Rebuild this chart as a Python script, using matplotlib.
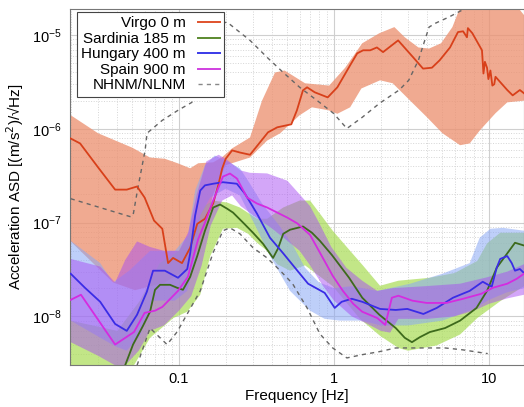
import numpy as np
import matplotlib
matplotlib.use("Agg")
import matplotlib.pyplot as plt
from matplotlib.lines import Line2D

plt.rcParams['font.family'] = ['Liberation Sans', 'DejaVu Sans']

# --- Virgo 0 m ---
virgo_f = [0.02, 0.023, 0.030, 0.0387, 0.046, 0.0536, 0.060, 0.069, 0.078, 0.085, 0.0915, 0.1045,
           0.118, 0.131, 0.147, 0.166, 0.18, 0.19, 0.2, 0.22, 0.247, 0.287, 0.375, 0.43, 0.53, 0.576,
           0.63, 0.67, 0.75, 0.91, 1.05, 1.27, 1.41, 1.54, 1.71, 1.89, 2.07, 2.59, 3.24, 3.75, 4.28,
           4.8, 5.6, 6.3, 6.8, 7.2, 7.3, 7.8, 9.0, 9.2, 9.4, 9.7, 9.9, 10.2, 10.5, 10.8, 11.0, 13.1,
           14.2, 15.8, 16.8]
virgo_a = [7.9e-7, 7.0e-7, 3.9e-7, 2.25e-7, 2.25e-7, 2.43e-7, 1.85e-7, 1.05e-7, 8.6e-8, 3.7e-8, 4.2e-8, 3.7e-8,
           5.4e-8, 9.7e-8, 1.1e-7, 1.6e-7, 2.6e-7, 3.8e-7, 4.8e-7, 5.9e-7, 5.6e-7, 5.3e-7, 9.2e-7, 1.04e-6, 1.12e-6, 1.58e-6,
           2.58e-6, 2.78e-6, 2.46e-6, 2.17e-6, 2.78e-6, 4.78e-6, 6.4e-6, 6.9e-6, 6.9e-6, 7.4e-6, 6.6e-6, 8.8e-6, 5.8e-6, 4.4e-6, 4.5e-6,
           5.4e-6, 7.4e-6, 1.08e-5, 1.1e-5, 9.5e-6, 1.19e-5, 1.05e-5, 6.9e-6, 3.9e-6, 5.2e-6, 4.5e-6, 3.4e-6, 4.2e-6, 2.9e-6, 3.0e-6, 3.6e-6, 2.6e-6,
           2.28e-6, 2.6e-6, 2.4e-6]
virgo_up_f = [0.02, 0.03, 0.05, 0.065, 0.081, 0.098, 0.118, 0.133, 0.166, 0.19, 0.22, 0.287, 0.343, 0.416,
              0.48, 0.65, 0.93, 1.18, 1.52, 1.96, 2.45, 2.86, 3.5, 4.1, 4.9, 5.8, 6.4, 7.5, 13.7, 16.8]
virgo_up_a = [1.4e-6, 9e-7, 6.3e-7, 4.95e-7, 4.8e-7, 4.3e-7, 3.8e-7, 4.3e-7, 4.4e-7, 5.0e-7, 6.2e-7, 8.1e-7, 2.0e-6, 4.0e-6,
              4.2e-6, 3.07e-6, 2.9e-6, 4.5e-6, 8.2e-6, 1.05e-5, 1.22e-5, 9.5e-6, 7.4e-6, 7.2e-6, 8.2e-6, 1.22e-5, 1.85e-5, 2.5e-5, 2.5e-5, 1.64e-5]
virgo_lo_f = [0.02, 0.0375, 0.052, 0.081, 0.109, 0.14, 0.166, 0.2, 0.287, 0.37, 0.45, 0.6, 0.72, 0.92,
              1.05, 1.27, 1.5, 1.98, 2.39, 3.1, 3.98, 5.0, 6.5, 7.5, 8.7, 11.0, 13.1, 16.8]
virgo_lo_a = [6.3e-8, 2.3e-8, 1.9e-8, 2.3e-8, 3.1e-8, 6e-8, 2e-7, 4.1e-7, 4.95e-7, 7.5e-7, 9e-7, 1.4e-6, 1.7e-6, 1.58e-6,
              1.45e-6, 1.7e-6, 2.7e-6, 3.3e-6, 3.07e-6, 2.0e-6, 1.33e-6, 9.0e-7, 6.7e-7, 7.0e-7, 9.6e-7, 1.47e-6, 1.92e-6, 2.0e-6]

# --- Sardinia 185 m ---
sard_f = [0.0417, 0.0449, 0.0505, 0.0585, 0.065, 0.07, 0.0754, 0.0875, 0.097, 0.106, 0.118, 0.131, 0.147,
          0.166, 0.184, 0.204, 0.223, 0.259, 0.3, 0.348, 0.404, 0.435, 0.47, 0.52, 0.63, 0.72, 0.81, 0.97,
          1.25, 1.52, 1.96, 2.5, 2.86, 3.18, 3.58, 4.15, 5.2, 6.5, 8.3, 9.7, 11.2, 13.1, 14.7, 16.8]
sard_a = [2.3e-9, 3.0e-9, 5.0e-9, 7.9e-9, 1.12e-8, 1.92e-8, 2.17e-8, 2.17e-8, 2.02e-8, 1.92e-8, 2.64e-8, 4.4e-8, 8.2e-8,
          1.45e-7, 1.56e-7, 1.41e-7, 1.28e-7, 1.0e-7, 7.8e-8, 5.96e-8, 4.2e-8, 5.3e-8, 7.6e-8, 8.4e-8, 9.1e-8, 7.8e-8, 6.4e-8, 4.5e-8,
          2.58e-8, 1.58e-8, 1.04e-8, 7.5e-9, 5.9e-9, 5.3e-9, 6.0e-9, 6.8e-9, 7.5e-9, 9.0e-9, 1.23e-8, 1.87e-8, 3.3e-8, 4.7e-8, 6.1e-8, 5.7e-8]
sard_up_f = [0.02, 0.04, 0.056, 0.075, 0.1, 0.127, 0.147, 0.166, 0.204, 0.247, 0.318, 0.37, 0.47, 0.6, 0.7,
             0.81, 0.98, 1.27, 1.54, 1.98, 2.6, 4.15, 6.0, 8.4, 9.7, 11.8, 16.8]
sard_up_a = [9e-9, 7e-9, 1.47e-8, 3.7e-8, 5e-8, 9.3e-8, 1.52e-7, 1.72e-7, 1.64e-7, 1.45e-7, 1.1e-7, 1.1e-7, 1.45e-7, 1.72e-7, 1.72e-7,
             1.25e-7, 8.2e-8, 5e-8, 3.47e-8, 2.12e-8, 2.4e-8, 2.58e-8, 2.9e-8, 3.9e-8, 6e-8, 7.8e-8, 7.8e-8]
sard_lo_f = [0.02, 0.048, 0.065, 0.092, 0.113, 0.137, 0.159, 0.192, 0.236, 0.279, 0.318, 0.37, 0.43, 0.52,
             0.65, 0.98, 1.47, 1.98, 2.6, 3.0, 4.6, 6.5, 8.4, 11.8, 16.8]
sard_lo_a = [2.5e-9, 2.5e-9, 5.9e-9, 9.6e-9, 1.12e-8, 1.7e-8, 4.4e-8, 8.6e-8, 8.8e-8, 7.6e-8, 6.1e-8, 5e-8, 3.6e-8, 3.07e-8,
             3.5e-8, 2.1e-8, 9.4e-9, 6.2e-9, 4.6e-9, 4.3e-9, 4.9e-9, 6.4e-9, 9.6e-9, 1.45e-8, 2.1e-8]

# --- Hungary 400 m ---
hung_f = [0.02, 0.0247, 0.031, 0.0387, 0.046, 0.0536, 0.062, 0.068, 0.081, 0.0985, 0.113, 0.118, 0.127, 0.137,
          0.147, 0.166, 0.192, 0.236, 0.266, 0.318, 0.386, 0.47, 0.58, 0.68, 0.87, 1.01, 1.12, 1.3, 1.52, 1.98,
          2.5, 2.97, 3.77, 4.6, 5.85, 7.5, 9.1, 10.4, 11.2, 11.8, 13.1, 14.0, 14.7, 15.8, 16.8]
hung_a = [2.85e-8, 2.02e-8, 1.43e-8, 8.3e-9, 7.0e-9, 1.04e-8, 1.83e-8, 3.07e-8, 3.07e-8, 2.58e-8, 3.2e-8, 4.7e-8, 1.19e-7, 2.2e-7,
          2.5e-7, 2.6e-7, 2.7e-7, 2.6e-7, 2.04e-7, 1.25e-7, 6.9e-8, 4.7e-8, 3.07e-8, 2.23e-8, 1.78e-8, 1.23e-8, 1.43e-8, 1.54e-8, 1.43e-8, 1.2e-8,
          1.17e-8, 1.2e-8, 1.06e-8, 1.23e-8, 1.58e-8, 1.87e-8, 2.34e-8, 2.07e-8, 3.3e-8, 4.1e-8, 4.4e-8, 3.7e-8, 3.07e-8, 3.2e-8, 2.9e-8]
hung_up_f = [0.02, 0.031, 0.0375, 0.048, 0.065, 0.094, 0.114, 0.127, 0.147, 0.17, 0.2, 0.247, 0.287, 0.343,
             0.45, 0.55, 0.65, 0.8, 1.0, 1.3, 1.9, 3.1, 5.0, 7.5, 8.7, 10.2, 12.3, 16.8]
hung_up_a = [6.4e-8, 3.7e-8, 2.3e-8, 3.1e-8, 5e-8, 5e-8, 7.3e-8, 2.2e-7, 4.1e-7, 5.2e-7, 4.6e-7, 3.8e-7, 2.6e-7, 1.6e-7,
             9e-8, 5.5e-8, 3.3e-8, 2.3e-8, 2.0e-8, 2.1e-8, 1.87e-8, 2.23e-8, 2.85e-8, 3.7e-8, 6.9e-8, 8.6e-8, 8.8e-8, 8.2e-8]
hung_lo_f = [0.02, 0.0387, 0.046, 0.056, 0.068, 0.094, 0.113, 0.127, 0.137, 0.159, 0.2, 0.247, 0.31, 0.386,
             0.52, 0.7, 0.87, 1.09, 1.5, 2.0, 3.0, 5.0, 8.0, 10.0, 13.0, 16.8]
hung_lo_a = [9e-9, 4.8e-9, 4.3e-9, 6.2e-9, 1.47e-8, 1.47e-8, 1.87e-8, 3.9e-8, 1.19e-7, 1.85e-7, 2.3e-7, 1.95e-7, 9.3e-8, 4.4e-8,
             1.87e-8, 1.15e-8, 9.4e-9, 9e-9, 9e-9, 8e-9, 8e-9, 9e-9, 1.2e-8, 1.5e-8, 1.8e-8, 2e-8]

# --- Spain 900 m ---
spain_f = [0.02, 0.0233, 0.0387, 0.0512, 0.06, 0.07, 0.078, 0.0985, 0.114, 0.133, 0.147, 0.166, 0.192, 0.213,
           0.236, 0.275, 0.318, 0.37, 0.43, 0.5, 0.58, 0.7, 0.84, 0.98, 1.14, 1.33, 1.52, 1.9, 2.14, 2.36,
           2.6, 3.2, 3.96, 5.3, 6.8, 8.9, 10.6, 13.1, 15.1, 16.8]
spain_a = [1.5e-8, 1.7e-8, 5.0e-9, 6.8e-9, 1.09e-8, 1.15e-8, 1.26e-8, 1.87e-8, 2.64e-8, 6.7e-8, 1.0e-7, 1.72e-7, 3.1e-7, 3.34e-7,
           2.96e-7, 1.85e-7, 1.6e-7, 1.45e-7, 1.28e-7, 1.13e-7, 9.8e-8, 7.4e-8, 4.3e-8, 2.71e-8, 1.87e-8, 1.36e-8, 1.12e-8, 9.6e-9, 8.1e-9, 1.58e-8,
           1.66e-8, 1.47e-8, 1.39e-8, 1.39e-8, 1.54e-8, 1.74e-8, 2.02e-8, 2.23e-8, 2.52e-8, 2.85e-8]
spain_up_f = [0.02, 0.031, 0.0387, 0.045, 0.0536, 0.065, 0.08, 0.1, 0.115, 0.13, 0.15, 0.18, 0.2, 0.25, 0.287,
              0.37, 0.5, 0.6, 0.7, 0.8, 0.96, 1.2, 1.52, 1.9, 2.4, 3.9, 6.5, 9.6, 13.1, 16.8]
spain_up_a = [4.1e-8, 3.4e-8, 2.3e-8, 4e-8, 6.3e-8, 5.5e-8, 5e-8, 5e-8, 8e-8, 2e-7, 4.5e-7, 5.3e-7, 4.8e-7, 3.6e-7, 3.4e-7,
              3.35e-7, 2.8e-7, 2.0e-7, 1.5e-7, 1.0e-7, 5.5e-8, 3.3e-8, 2.4e-8, 1.87e-8, 2e-8, 2.1e-8, 2.23e-8, 2.6e-8, 3.0e-8, 3.6e-8]
spain_lo_f = [0.02, 0.03, 0.0387, 0.045, 0.055, 0.065, 0.08, 0.1, 0.12, 0.14, 0.16, 0.19, 0.22, 0.25, 0.3,
              0.4, 0.5, 0.6, 0.7, 0.85, 1.0, 1.3, 1.6, 2.0, 2.3, 2.6, 4.0, 6.0, 8.0, 10.0, 13.0, 16.8]
spain_lo_a = [5.3e-9, 3.8e-9, 3e-9, 3e-9, 4.3e-9, 7e-9, 8e-9, 1.15e-8, 1.65e-8, 3.5e-8, 9.3e-8, 1.72e-7, 1.95e-7, 1.5e-7, 1.2e-7,
              8.6e-8, 6.4e-8, 5e-8, 3.5e-8, 2.1e-8, 1.47e-8, 1e-8, 8.5e-9, 7e-9, 6.7e-9, 9.4e-9, 9.4e-9, 1e-8, 1.15e-8, 1.36e-8, 1.55e-8, 1.7e-8]

# --- Peterson noise models ---
nhnm_f = [0.02, 0.0483, 0.0505, 0.0544, 0.0604, 0.0622, 0.0777, 0.0985, 0.121, 0.147, 0.17, 0.204, 0.287, 0.37,
          0.47, 0.6, 0.78, 0.99, 1.21, 1.52, 1.96, 2.63, 3.03, 3.5, 4.1, 4.5, 5.5, 6.7, 8.5]
nhnm_a = [1.8e-7, 1.16e-7, 1.19e-7, 2.4e-7, 5.9e-7, 9.0e-7, 1.23e-6, 1.58e-6, 1.92e-6, 5.4e-6, 1.28e-5, 1.38e-5, 8.8e-6, 5.8e-6,
          4.0e-6, 2.78e-6, 2.0e-6, 1.47e-6, 1.01e-6, 1.33e-6, 1.87e-6, 2.6e-6, 3.3e-6, 5.4e-6, 1.22e-5, 1.34e-5, 1.56e-5, 1.85e-5, 2.6e-5]
nlnm_f = [0.0536, 0.065, 0.0837, 0.097, 0.137, 0.166, 0.192, 0.213, 0.247, 0.3, 0.37, 0.45, 0.54, 0.67, 0.81,
          0.98, 1.21, 1.52, 1.96, 2.5, 3.2, 5.2, 6.7, 9.8]
nlnm_a = [3.0e-9, 7.5e-9, 5.0e-9, 6.8e-9, 1.87e-8, 4.8e-8, 8.2e-8, 8.8e-8, 7.6e-8, 5.4e-8, 4.2e-8, 3.07e-8, 2.23e-8, 1.23e-8, 6.5e-9,
          4.6e-9, 3.6e-9, 3.9e-9, 4.2e-9, 4.6e-9, 4.6e-9, 4.6e-9, 4.4e-9, 4.0e-9]

etiquetas = ['Virgo 0 m', 'Sardinia 185 m', 'Hungary 400 m', 'Spain 900 m', 'NHNM/NLNM']


def banda(ax, fu, au, fl, al, color, alpha):
    xs = np.r_[fu, fl[::-1]]
    ys = np.r_[au, al[::-1]]
    ax.fill(xs, ys, color=color, alpha=alpha, lw=0, zorder=2)


fig = plt.figure(figsize=(5.24, 4.07), dpi=100)
ax = fig.add_axes([0.1336, 0.103, 0.8664, 0.875])

banda(ax, virgo_up_f, virgo_up_a, virgo_lo_f, virgo_lo_a, '#ec9272', 0.78)
banda(ax, sard_up_f, sard_up_a, sard_lo_f, sard_lo_a, '#a8dc55', 0.7)
banda(ax, hung_up_f, hung_up_a, hung_lo_f, hung_lo_a, '#8aa8f5', 0.55)
banda(ax, spain_up_f, spain_up_a, spain_lo_f, spain_lo_a, '#a84ef2', 0.5)

ax.plot(nhnm_f, nhnm_a, color='#666666', ls=(0, (3, 3)), lw=1.0, zorder=3)
ax.plot(nlnm_f, nlnm_a, color='#666666', ls=(0, (3, 3)), lw=1.0, zorder=3)
ax.plot(virgo_f, virgo_a, color='#d8401a', lw=1.3, zorder=4)
ax.plot(sard_f, sard_a, color='#3d6a1c', lw=1.3, zorder=4)
ax.plot(hung_f, hung_a, color='#3a2ce6', lw=1.3, zorder=4)
ax.plot(spain_f, spain_a, color='#d52be0', lw=1.3, zorder=4)

ax.set_xscale('log')
ax.set_yscale('log')
ax.set_xlim(0.0198, 16.8)
ax.set_ylim(10 ** -8.52, 10 ** -4.72)

ax.grid(which='major', color='#cfcfcf', lw=0.8, ls='-')
ax.grid(which='minor', color='#d5d5d5', lw=0.7, ls=':')
ax.set_axisbelow(True)
ax.tick_params(which='both', direction='in', length=0, labelsize=10.5)
ax.tick_params(axis='x', pad=5)
ax.tick_params(axis='y', pad=6)
for s in ax.spines.values():
    s.set_color('#777777')
    s.set_linewidth(0.8)
ax.set_xticks([0.1, 1, 10])
ax.set_xticklabels(['0.1', '1', '10'])

ax.set_xlabel('Frequency [Hz]', fontsize=11, labelpad=2)
ax.set_ylabel('Acceleration ASD [(m/s$^2$)/\u221aHz]', fontsize=11, labelpad=4)

handles = [
    Line2D([], [], color='#e0522c', lw=1.4),
    Line2D([], [], color='#5b8a2f', lw=1.4),
    Line2D([], [], color='#3a3ae8', lw=1.4),
    Line2D([], [], color='#d040e0', lw=1.4),
    Line2D([], [], color='#888888', lw=1.0, ls=(0, (3, 3))),
]
leg = ax.legend(handles, etiquetas, loc='upper left', bbox_to_anchor=(0.015, 0.992), borderaxespad=0,
                markerfirst=False, fontsize=11, handlelength=1.4, labelspacing=0.1,
                fancybox=False, framealpha=1, edgecolor='#444444', borderpad=0.3, handletextpad=0.8)
leg.get_frame().set_linewidth(0.8)
leg._legend_box.align = 'right'
leg.set_zorder(10)

fig.savefig('out.png', dpi=100)
